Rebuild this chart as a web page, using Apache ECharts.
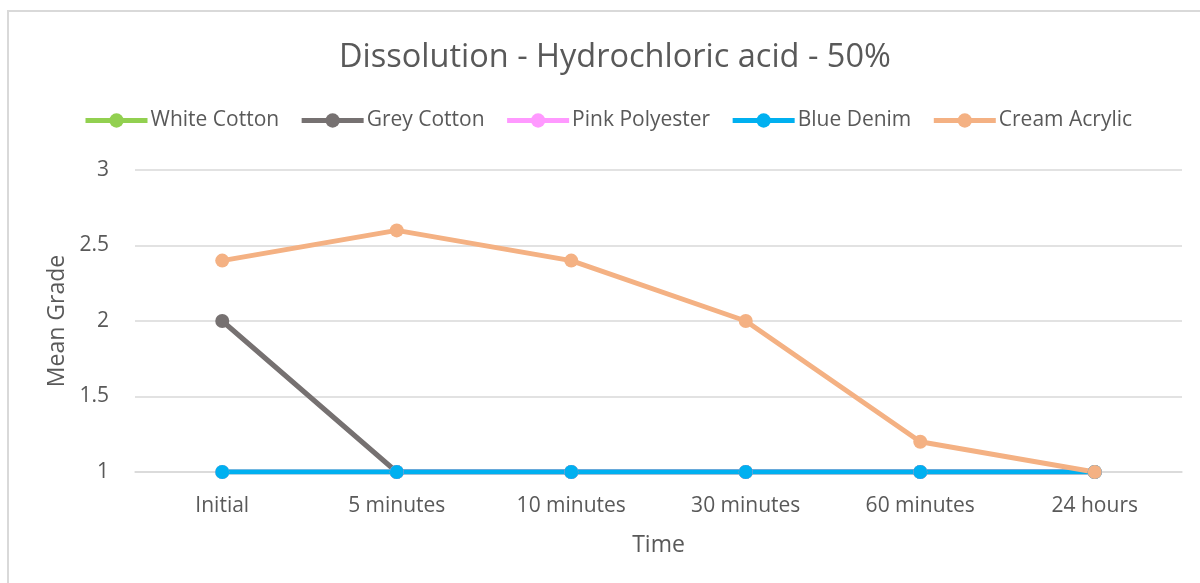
<!DOCTYPE html>
<html>
<head>
<meta charset="utf-8">
<script src="https://cdn.jsdelivr.net/npm/echarts@6/dist/echarts.min.js"></script>
<style>
  html, body { margin: 0; padding: 0; background: #ffffff; }
  #chart { width: 1200px; height: 583px; }
</style>
</head>
<body>
<div id="chart"></div>
<script>
// Time points and mean dissolution grade per fabric
const categories = ['Initial', '5 minutes', '10 minutes', '30 minutes', '60 minutes', '24 hours'];
const whiteCotton   = [1, 1, 1, 1, 1, 1];
const greyCotton    = [2, 1, 1, 1, 1, 1];
const pinkPolyester = [1, 1, 1, 1, 1, 1];
const blueDenim     = [1, 1, 1, 1, 1, 1];
const creamAcrylic  = [2.4, 2.6, 2.4, 2.0, 1.2, 1.0];

const FONT = '"Open Sans", sans-serif';
const TEXT = '#595959';

function line(name, data, color) {
  return {
    name: name,
    type: 'line',
    data: data,
    symbol: 'circle',
    symbolSize: 14,
    itemStyle: { color: color },
    lineStyle: { color: color, width: 5 },
    emphasis: { disabled: true }
  };
}

const chart = echarts.init(document.getElementById('chart'), null, { renderer: 'canvas' });
chart.setOption({
  animation: false,
  backgroundColor: '#ffffff',
  graphic: [{
    type: 'rect',
    shape: { x: 8, y: 11, width: 1400, height: 800 },
    style: { fill: 'none', stroke: '#d9d9d9', lineWidth: 2 },
    silent: true
  }],
  title: {
    text: 'Dissolution - Hydrochloric acid - 50%',
    left: 334,
    top: 36,
    textStyle: { fontFamily: FONT, fontSize: 32.5, fontWeight: 'normal', color: TEXT }
  },
  legend: {
    top: 105,
    left: 78,
    itemWidth: 62,
    itemHeight: 18,
    itemGap: 20,
    lineStyle: { width: 5 },
    textStyle: { fontFamily: FONT, fontSize: 21, color: TEXT, padding: [0, 0, 0, -2] },
    data: ['White Cotton', 'Grey Cotton', 'Pink Polyester', 'Blue Denim', 'Cream Acrylic']
  },
  grid: { left: 135, right: 18, top: 170, bottom: 111 },
  xAxis: {
    type: 'category',
    data: categories,
    boundaryGap: true,
    name: 'Time',
    nameLocation: 'middle',
    nameGap: 62,
    nameTextStyle: { fontFamily: FONT, fontSize: 23, color: TEXT },
    axisLine: { show: true, lineStyle: { color: '#d9d9d9', width: 1.5 } },
    axisTick: { show: false },
    axisLabel: { margin: 24, fontFamily: FONT, fontSize: 21, color: TEXT }
  },
  yAxis: {
    type: 'value',
    min: 1,
    max: 3,
    interval: 0.5,
    name: 'Mean Grade',
    nameLocation: 'middle',
    nameGap: 60,
    nameTextStyle: { fontFamily: FONT, fontSize: 23, color: TEXT },
    axisLine: { show: false },
    axisTick: { show: false },
    axisLabel: { margin: 26, fontFamily: FONT, fontSize: 21, color: TEXT },
    splitLine: { lineStyle: { color: '#d9d9d9', width: 1.5 } }
  },
  series: [
    line('White Cotton', whiteCotton, '#92d050'),
    line('Grey Cotton', greyCotton, '#767171'),
    line('Pink Polyester', pinkPolyester, '#ff99ff'),
    line('Blue Denim', blueDenim, '#00b0f0'),
    line('Cream Acrylic', creamAcrylic, '#f4b183')
  ]
});
</script>
</body>
</html>
